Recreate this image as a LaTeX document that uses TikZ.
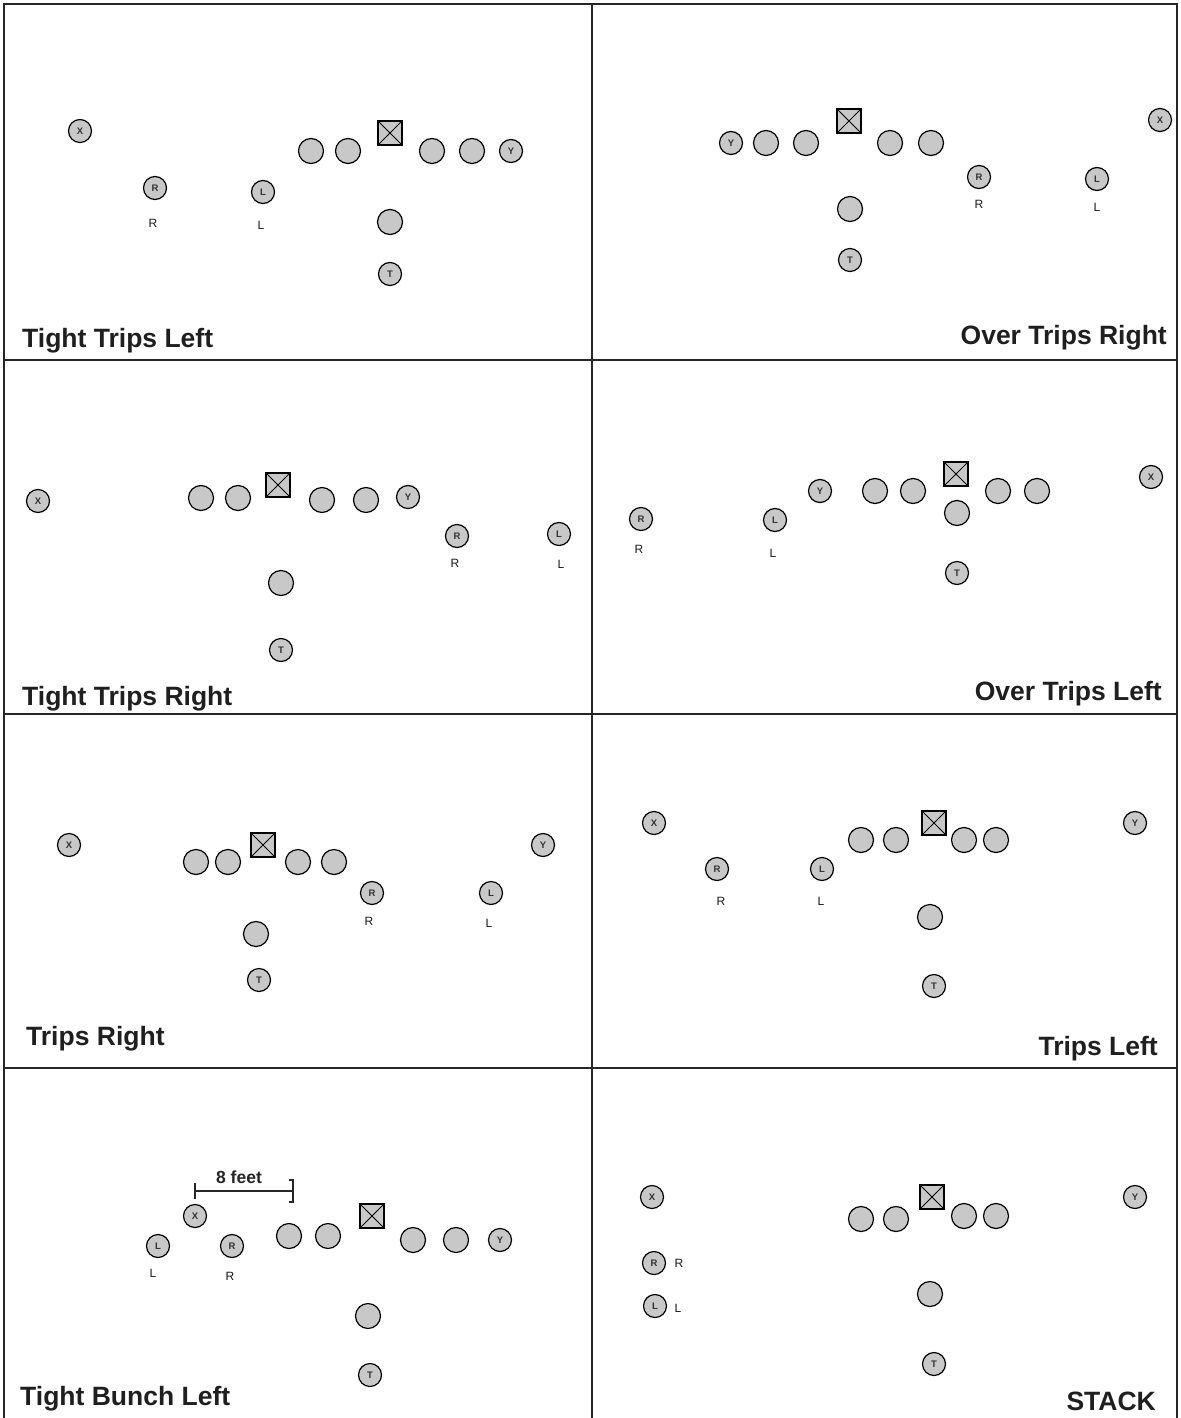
\documentclass[tikz,border=0pt]{standalone}
\usepackage{fontspec}
\setmainfont{Liberation Sans}
\begin{document}
\begin{tikzpicture}[x=1pt,y=-1pt,
  frame/.style={line width=1.8pt, draw=black!85},
  pl/.style={circle, draw=black, fill=plgray, line width=1.2pt, minimum size=23pt, inner sep=0pt,
     font=\bfseries\fontsize{9.5}{9.5}\selectfont, text=black!80},
  ol/.style={pl, minimum size=25pt},
  ctr/.style={rectangle, draw=black, fill=plgray, line width=1.5pt, minimum size=24pt, inner sep=0pt,
     path picture={\draw[line width=0.8pt] (path picture bounding box.south west) -- (path picture bounding box.north east)
        (path picture bounding box.north west) -- (path picture bounding box.south east);}},
  lbl/.style={inner sep=0pt, font=\fontsize{12}{12}\selectfont, text=black!90},
  ttl/.style={inner sep=0pt, font=\bfseries\fontsize{26.5}{28}\selectfont, text=black!88},
  dim/.style={line width=1.2pt, draw=black!85}]
\definecolor{plgray}{HTML}{C8C8C8}
\useasboundingbox (0,0) rectangle (1180,1418);
\fill[white] (0,0) rectangle (1180,1418);
% frame
\draw[frame] (4,1418) -- (4,4) -- (1177,4) -- (1177,1418);
\draw[frame] (592,4) -- (592,1418);
\draw[frame] (4,360) -- (1177,360);
\draw[frame] (4,714) -- (1177,714);
\draw[frame] (4,1068) -- (1177,1068);

% ---------- Panel 1: Tight Trips Left ----------
\node[pl] (p1x) at (80,131) {X};
\node[pl] (p1r) at (155,188) {R};
\node[lbl] (p1rl) at (153,223) {R};
\node[pl] (p1l) at (263,192) {L};
\node[lbl] (p1ll) at (261,225) {L};
\node[ol] (p1o1) at (311,151) {};
\node[ol] (p1o2) at (348,151) {};
\node[ctr] (p1c) at (390,133) {};
\node[ol] (p1o3) at (432,151) {};
\node[ol] (p1o4) at (472,151) {};
\node[pl] (p1y) at (511,151) {Y};
\node[ol] (p1b) at (390,222) {};
\node[pl] (p1t) at (390,274) {T};
\node[ttl, anchor=base west] (p1n) at (22,347) {Tight Trips Left};

% ---------- Panel 2: Over Trips Right ----------
\node[pl] (p2y) at (731,143) {Y};
\node[ol] (p2o1) at (766,143) {};
\node[ol] (p2o2) at (806,143) {};
\node[ctr] (p2c) at (849,121) {};
\node[ol] (p2o3) at (890,143) {};
\node[ol] (p2o4) at (931,143) {};
\node[pl] (p2r) at (979,177) {R};
\node[lbl] (p2rl) at (979,204) {R};
\node[pl] (p2l) at (1097,179) {L};
\node[lbl] (p2ll) at (1097,207) {L};
\node[pl] (p2x) at (1160,120) {X};
\node[ol] (p2b) at (850,209) {};
\node[pl] (p2t) at (850,260) {T};
\node[ttl, anchor=base east] (p2n) at (1167,344) {Over Trips Right};

% ---------- Panel 3: Tight Trips Right ----------
\node[pl] (p3x) at (38,501) {X};
\node[ol] (p3o1) at (201,498) {};
\node[ol] (p3o2) at (238,498) {};
\node[ctr] (p3c) at (278,485) {};
\node[ol] (p3o3) at (322,500) {};
\node[ol] (p3o4) at (366,500) {};
\node[pl] (p3y) at (408,497) {Y};
\node[pl] (p3r) at (457,536) {R};
\node[lbl] (p3rl) at (455,563) {R};
\node[pl] (p3l) at (559,534) {L};
\node[lbl] (p3ll) at (561,564) {L};
\node[ol] (p3b) at (281,583) {};
\node[pl] (p3t) at (281,650) {T};
\node[ttl, anchor=base west] (p3n) at (22,705) {Tight Trips Right};

% ---------- Panel 4: Over Trips Left ----------
\node[pl] (p4x) at (1151,477) {X};
\node[pl] (p4r) at (641,519) {R};
\node[lbl] (p4rl) at (639,549) {R};
\node[pl] (p4l) at (775,520) {L};
\node[lbl] (p4ll) at (773,553) {L};
\node[pl] (p4y) at (820,491) {Y};
\node[ol] (p4o1) at (875,491) {};
\node[ol] (p4o2) at (913,491) {};
\node[ctr] (p4c) at (956,474) {};
\node[ol] (p4o3) at (998,491) {};
\node[ol] (p4o4) at (1037,491) {};
\node[ol] (p4b) at (957,513) {};
\node[pl] (p4t) at (957,573) {T};
\node[ttl, anchor=base east] (p4n) at (1162,700) {Over Trips Left};

% ---------- Panel 5: Trips Right ----------
\node[pl] (p5x) at (69,845) {X};
\node[ol] (p5o1) at (196,862) {};
\node[ol] (p5o2) at (228,862) {};
\node[ctr] (p5c) at (263,845) {};
\node[ol] (p5o3) at (298,862) {};
\node[ol] (p5o4) at (334,862) {};
\node[pl] (p5r) at (372,893) {R};
\node[lbl] (p5rl) at (369,921) {R};
\node[pl] (p5l) at (491,893) {L};
\node[lbl] (p5ll) at (489,923) {L};
\node[pl] (p5y) at (543,845) {Y};
\node[ol] (p5b) at (256,934) {};
\node[pl] (p5t) at (259,980) {T};
\node[ttl, anchor=base west] (p5n) at (26,1045) {Trips Right};

% ---------- Panel 6: Trips Left ----------
\node[pl] (p6x) at (654,823) {X};
\node[pl] (p6r) at (717,869) {R};
\node[lbl] (p6rl) at (721,901) {R};
\node[pl] (p6l) at (822,869) {L};
\node[lbl] (p6ll) at (821,901) {L};
\node[ol] (p6o1) at (861,840) {};
\node[ol] (p6o2) at (896,840) {};
\node[ctr] (p6c) at (934,823) {};
\node[ol] (p6o3) at (964,840) {};
\node[ol] (p6o4) at (996,840) {};
\node[pl] (p6y) at (1135,823) {Y};
\node[ol] (p6b) at (930,917) {};
\node[pl] (p6t) at (934,986) {T};
\node[ttl, anchor=base east] (p6n) at (1158,1055) {Trips Left};

% ---------- Panel 7: Tight Bunch Left ----------
\node[inner sep=0pt, font=\bfseries\fontsize{17.5}{17.5}\selectfont, text=black!85] (p7f) at (239,1177) {8 feet};
\coordinate (p7a) at (195,1191);
\coordinate (p7b) at (293,1191);
\draw[dim] (p7a) -- (p7b);
\draw[dim] (p7a) ++(0,-8) -- ++(0,16);
\draw[dim] (p7b) ++(-4,-11) -- ++(4,0) -- ++(0,22) -- ++(-4,0);
\node[pl] (p7x) at (195,1216) {X};
\node[pl] (p7l) at (158,1246) {L};
\node[lbl] (p7ll) at (153,1273) {L};
\node[pl] (p7r) at (232,1246) {R};
\node[lbl] (p7rl) at (230,1276) {R};
\node[ol] (p7o1) at (289,1236) {};
\node[ol] (p7o2) at (328,1236) {};
\node[ctr] (p7c) at (372,1216) {};
\node[ol] (p7o3) at (413,1240) {};
\node[ol] (p7o4) at (456,1240) {};
\node[pl] (p7y) at (500,1240) {Y};
\node[ol] (p7b2) at (368,1316) {};
\node[pl] (p7t) at (370,1375) {T};
\node[ttl, anchor=base west] (p7n) at (20,1405) {Tight Bunch Left};

% ---------- Panel 8: STACK ----------
\node[pl] (p8x) at (652,1197) {X};
\node[pl] (p8r) at (654,1263) {R};
\node[lbl] (p8rl) at (679,1263) {R};
\node[pl] (p8l) at (655,1306) {L};
\node[lbl] (p8ll) at (678,1308) {L};
\node[ol] (p8o1) at (861,1219) {};
\node[ol] (p8o2) at (896,1219) {};
\node[ctr] (p8c) at (932,1197) {};
\node[ol] (p8o3) at (964,1216) {};
\node[ol] (p8o4) at (996,1216) {};
\node[pl] (p8y) at (1135,1197) {Y};
\node[ol] (p8b) at (930,1294) {};
\node[pl] (p8t) at (934,1364) {T};
\node[ttl, anchor=base east] (p8n) at (1156,1410) {STACK};
\end{tikzpicture}
\end{document}
